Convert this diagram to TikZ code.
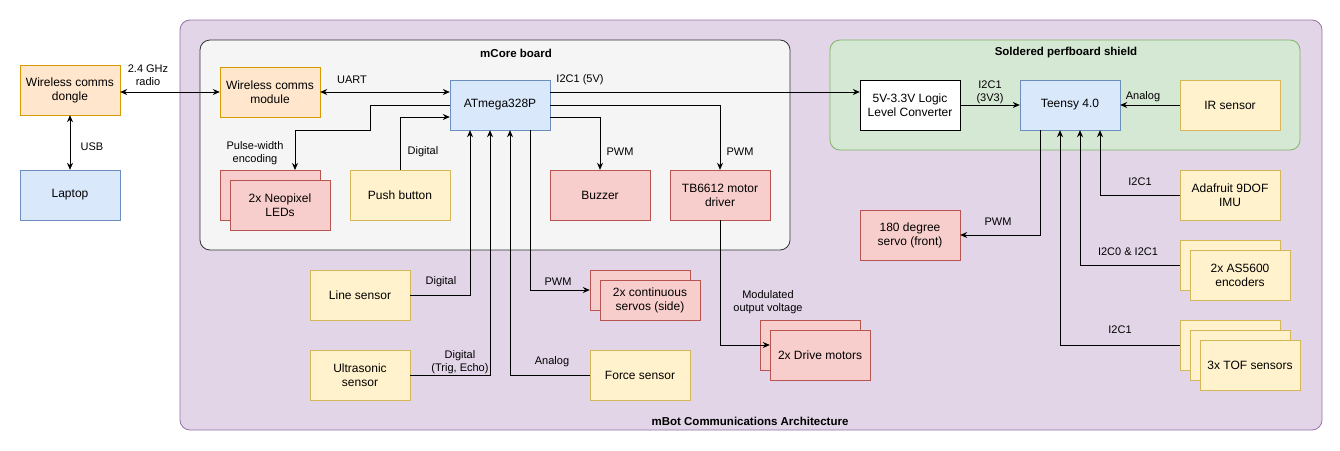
\documentclass[tikz,border=0pt]{standalone}
\usepackage{fontspec}
\setmainfont{Liberation Sans}
\usetikzlibrary{arrows.meta}
\definecolor{pF}{HTML}{E1D5E7}\definecolor{pS}{HTML}{9673A6}
\definecolor{gF}{HTML}{F5F5F5}\definecolor{gS}{HTML}{666666}
\definecolor{grF}{HTML}{D5E8D4}\definecolor{grS}{HTML}{82B366}
\definecolor{oF}{HTML}{FFE6CC}\definecolor{oS}{HTML}{D79B00}
\definecolor{bF}{HTML}{DAE8FC}\definecolor{bS}{HTML}{6C8EBF}
\definecolor{rF}{HTML}{F8CECC}\definecolor{rS}{HTML}{B85450}
\definecolor{yF}{HTML}{FFF2CC}\definecolor{yS}{HTML}{D6B656}
\begin{document}
\begin{tikzpicture}[x=1pt,y=-1pt,
 box/.style={draw,minimum width=100pt,minimum height=50pt,inner sep=1pt,align=center,font=\fontsize{12}{14}\selectfont},
 org/.style={box,fill=oF,draw=oS}, blu/.style={box,fill=bF,draw=bS},
 red/.style={box,fill=rF,draw=rS}, yel/.style={box,fill=yF,draw=yS},
 lbl/.style={font=\fontsize{11}{13}\selectfont,align=center,inner sep=1pt},
 ttl/.style={lbl,font=\bfseries\fontsize{11.5}{13}\selectfont},
 ar/.style={-{Stealth[length=7pt,width=6pt]},line width=0.8pt},
 bar/.style={{Stealth[length=7pt,width=6pt]}-{Stealth[length=7pt,width=6pt]},line width=0.8pt},
 cont/.style={rounded corners=10pt,line width=0.8pt}]
\useasboundingbox (0,0) rectangle (1340,450);
\draw[cont,fill=pF,draw=pS] (180,20) rectangle (1322,430);
\draw[cont,fill=gF,draw=black!80] (200,40) rectangle (790,250);
\draw[cont,fill=grF,draw=grS] (830,40) rectangle (1300,150);
\node[ttl] (t1) at (750,421) {mBot Communications Architecture};
\node[ttl] (t2) at (516,53) {mCore board};
\node[ttl] (t3) at (1066,53) {Soldered perfboard shield};

\node[org] (dongle) at (70,90) {Wireless comms\\dongle};
\node[blu] (laptop) at (70,195) {Laptop};
\node[org] (mod) at (270,92) {Wireless comms\\module};
\node[blu] (atm) at (500,105) {ATmega328P};
\node[red] (neob) at (270,195) {};
\node[red] (neo) at (280,205) {2x Neopixel\\LEDs};
\node[yel] (push) at (400,195) {Push button};
\node[red] (buz) at (600,195) {Buzzer};
\node[red] (tb) at (720,195) {TB6612 motor\\driver};
\node[yel] (line) at (360,295) {Line sensor};
\node[yel] (ultra) at (360,375) {Ultrasonic\\sensor};
\node[yel] (force) at (640,375) {Force sensor};
\node[red,minimum height=40pt] (csb) at (640,290) {};
\node[red,minimum height=40pt] (cs) at (650,300) {2x continuous\\servos (side)};
\node[red] (dmb) at (810,345) {};
\node[red] (dm) at (820,355) {2x Drive motors};
\node[box,fill=white,draw=black] (conv) at (910,105) {5V-3.3V Logic\\Level Converter};
\node[blu] (teen) at (1070,105) {Teensy 4.0};
\node[yel] (ir) at (1230,105) {IR sensor};
\node[yel] (imu) at (1230,195) {Adafruit 9DOF\\IMU};
\node[yel] (asb) at (1230,265) {};
\node[yel] (as) at (1240,275) {2x AS5600\\encoders};
\node[yel] (tofa) at (1230,345) {};
\node[yel] (tofb) at (1240,355) {};
\node[yel] (tof) at (1250,365) {3x TOF sensors};
\node[red] (servo) at (910,235) {180 degree\\servo (front)};

\draw[bar] (dongle.east|-0,92) -- (mod.west|-0,92);
\node[lbl] (l1) at (148,75) {2.4 GHz\\radio};
\draw[bar] (dongle) -- (laptop);
\node[lbl] (l2) at (92,147) {USB};
\draw[bar] (mod.east|-0,92) -- (atm.west|-0,92);
\node[lbl] (l3) at (352,80) {UART};
\draw[ar] (atm.east|-0,92) -- (conv.west|-0,92);
\node[lbl] (l4) at (580,80) {I2C1 (5V)};
\draw[ar] (atm.west|-0,105) -| (370,130) -| (295,170);
\node[lbl] (l5) at (255,153) {Pulse-width\\encoding};
\draw[ar] (push.north) |- (atm.west|-0,117);
\node[lbl] (l6) at (423,152) {Digital};
\draw[ar] (atm.east|-0,105) -| (tb.north);
\node[lbl] (l7) at (740,152) {PWM};
\draw[ar] (atm.east|-0,117) -| (buz.north);
\node[lbl] (l8) at (620,152) {PWM};
\draw[ar] (line.east) -| (atm.south-|470,0);
\node[lbl] (l9) at (441,282) {Digital};
\draw[ar] (ultra.east) -| (atm.south-|490,0);
\node[lbl] (l10) at (460,362) {Digital\\(Trig, Echo)};
\draw[ar] (force.west) -| (atm.south-|510,0);
\node[lbl] (l11) at (552,362) {Analog};
\draw[ar] (atm.south-|530,0) |- (csb.west|-0,290);
\node[lbl] (l12) at (558,282) {PWM};
\draw[ar] (tb.south) |- (dm.west|-0,345);
\node[lbl] (l13) at (768,302) {Modulated\\output voltage};
\draw[ar] (conv) -- (teen);
\node[lbl] (l14) at (990,92) {I2C1\\(3V3)};
\draw[ar] (ir) -- (teen);
\node[lbl] (l15) at (1143,97) {Analog};
\draw[ar] (teen.south-|1040,0) |- (servo.east);
\node[lbl] (l16) at (998,222) {PWM};
\draw[ar] (imu.west) -| (teen.south-|1100,0);
\node[lbl] (l17) at (1140,182) {I2C1};
\draw[ar] (asb.west) -| (teen.south-|1080,0);
\node[lbl] (l18) at (1128,252) {I2C0 \& I2C1};
\draw[ar] (tofa.west) -| (teen.south-|1060,0);
\node[lbl] (l19) at (1120,330) {I2C1};
\end{tikzpicture}
\end{document}
